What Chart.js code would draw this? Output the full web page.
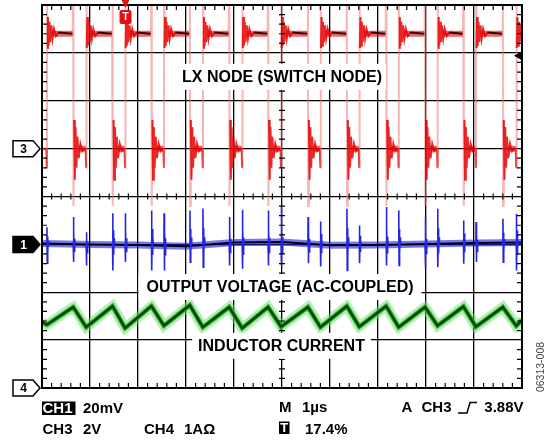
<!DOCTYPE html>
<html>
<head>
<meta charset="utf-8">
<script src="https://cdn.jsdelivr.net/npm/chart.js@4.4.0/dist/chart.umd.min.js"></script>
<style>
  html, body { margin: 0; padding: 0; background: #fff; }
  canvas { display: block; }
</style>
</head>
<body>
<canvas id="scope" width="550" height="440"></canvas>
<script>
// timebase M 1us/div, 10 div across -> times in us
var riseTimes = [0.10, 0.92, 1.73, 2.54, 3.35, 4.17, 4.98, 5.80, 6.61, 7.43, 8.24, 9.04, 9.88];
var fallTimes = [0.65, 1.47, 2.28, 3.08, 3.90, 4.71, 5.54, 6.35, 7.17, 7.98, 8.78, 9.60];

// CH3 LX node (volts, 2V/div, ground at div 5)
var lxHigh = 4.8;
var lxLow = 0;
// ringing: [dt us, volts]
var riseRing = [[0, -0.8], [0.004, 7.5], [0.012, 4.2], [0.024, 5.5], [0.038, 4.3], [0.054, 5.3], [0.072, 4.45], [0.095, 5.15], [0.12, 4.6], [0.15, 5.0], [0.19, 4.7], [0.24, 4.85]];
var fallRing = [[0, 7.5], [0.006, -2.4], [0.02, 1.2], [0.034, -1.3], [0.05, 0.9], [0.068, -0.8], [0.088, 0.5], [0.115, -0.4], [0.15, 0.2], [0.19, -0.1], [0.23, 0]];

// CH1 output voltage (mV, 20mV/div, ground at div 3)
var outDrift = [0.4, -0.1, -0.3, -0.8, 0.8, 1.0, -0.4, -0.3, 0.2, 0.6, 0.8];
var outSpikeUp = [7.2, 11.4, 5.1, 13.0, 13.0, 14.2, 13.0, 14.2, 15.0, 11.4, 14.5, 14.2, 15.6, 11.4, 9.6, 14.9, 7.9, 15.6, 14.2, 11.4, 14.9, 10.0, 9.3, 10.7, 12.8];
var outSpikeDown = [-7.9, -7.4, -8.8, -10.9, -7.4, -10.9, -10.9, -7.4, -9.5, -8.8, -10.2, -8.8, -8.8, -7.9, -9.2, -10.9, -7.9, -8.8, -8.8, -9.5, -9.5, -8.1, -7.4, -7.4, -10.9];
// spike shape, 1 = up amplitude, -1 = down amplitude
var spikeShape = [[0, 0], [0.003, 1], [0.009, -1], [0.016, 0.45], [0.023, -0.4], [0.031, 0.2], [0.04, 0]];

// CH4 inductor current (A, 1A/div, ground at div 0)
var ilValley = [1.32, 1.27, 1.25, 1.30, 1.27, 1.25, 1.28, 1.27, 1.28, 1.27, 1.30, 1.28, 1.30];
var ilPeak = [1.69, 1.71, 1.71, 1.73, 1.69, 1.69, 1.69, 1.71, 1.71, 1.69, 1.70, 1.69];
var ilStart = 1.38;
var ilEnd = 1.42;

var trigPos = 1.74;   // 17.4%
var trigLevel = 3.88; // V on CH3

function ch3(v) { return 5 + v / 2; }
function ch1(mv) { return 3 + mv / 20; }
function ch4(a) { return a; }

// LX node trace
var lxMain = [{x: 0, y: ch3(lxLow)}];
var lxFuzz = [];
riseTimes.forEach(function (r, i) {
  lxMain.push({x: r - 0.01, y: ch3(lxLow)});
  riseRing.forEach(function (p) { lxMain.push({x: r + p[0], y: ch3(p[1])}); });
  if (i < fallTimes.length) {
    var f = fallTimes[i];
    lxMain.push({x: f - 0.01, y: ch3(lxHigh)});
    fallRing.forEach(function (p) { lxMain.push({x: f + p[0], y: ch3(p[1])}); });
    lxFuzz.push({x: r + 0.1, y: ch3(lxHigh)}, {x: f - 0.01, y: ch3(lxHigh)}, {x: f, y: null});
    if (i + 1 < riseTimes.length) {
      lxFuzz.push({x: f + 0.12, y: ch3(lxLow)}, {x: riseTimes[i + 1] - 0.01, y: ch3(lxLow)}, {x: riseTimes[i + 1], y: null});
    }
  }
});

// output voltage
var outBase = outDrift.map(function (v, i) { return {x: i, y: ch1(v)}; });
var edges = riseTimes.concat(fallTimes).sort(function (a, b) { return a - b; });
var outSpikes = [];
edges.forEach(function (t, i) {
  spikeShape.forEach(function (s) {
    var v = s[1] >= 0 ? s[1] * outSpikeUp[i] : -s[1] * outSpikeDown[i];
    outSpikes.push({x: t + s[0], y: ch1(v)});
  });
  outSpikes.push({x: t + 0.05, y: null});
});

// inductor current
var ilPts = [{x: 0, y: ch4(ilStart)}];
riseTimes.forEach(function (r, i) {
  ilPts.push({x: r, y: ch4(ilValley[i])});
  if (i < fallTimes.length) ilPts.push({x: fallTimes[i], y: ch4(ilPeak[i])});
});
ilPts.push({x: 10, y: ch4(ilEnd)});

function trace(data, color, width, extra) {
  var ds = {data: data, borderColor: color, borderWidth: width, pointRadius: 0, tension: 0, fill: false, spanGaps: false};
  return Object.assign(ds, extra || {});
}

var FONT = '"Liberation Sans", Arial, sans-serif';

var scopeDecor = {
  id: 'scopeDecor',
  afterDraw: function (chart) {
    var ctx = chart.ctx, xs = chart.scales.x, ys = chart.scales.y, a = chart.chartArea;
    ctx.save();
    // frame
    ctx.strokeStyle = '#000';
    ctx.lineWidth = 2;
    ctx.strokeRect(a.left, a.top, a.right - a.left, a.bottom - a.top);
    // minor ticks
    ctx.lineWidth = 1.2;
    ctx.beginPath();
    var cx = xs.getPixelForValue(5), cy = ys.getPixelForValue(4);
    for (var k = 1; k < 50; k++) {
      if (k % 5 === 0) continue;
      var px = xs.getPixelForValue(k / 5);
      ctx.moveTo(px, a.top); ctx.lineTo(px, a.top + 5);
      ctx.moveTo(px, a.bottom); ctx.lineTo(px, a.bottom - 5);
      ctx.moveTo(px, cy - 3); ctx.lineTo(px, cy + 3);
    }
    for (var j = 1; j < 40; j++) {
      if (j % 5 === 0) continue;
      var py = ys.getPixelForValue(j / 5);
      ctx.moveTo(a.left, py); ctx.lineTo(a.left + 5, py);
      ctx.moveTo(a.right, py); ctx.lineTo(a.right - 5, py);
      ctx.moveTo(cx - 3, py); ctx.lineTo(cx + 3, py);
    }
    ctx.stroke();

    // trace labels on white boxes
    ctx.font = 'bold 16px ' + FONT;
    ctx.textAlign = 'center';
    ctx.textBaseline = 'middle';
    [['LX NODE (SWITCH NODE)', 5.0, 6.5, 4],
     ['OUTPUT VOLTAGE (AC-COUPLED)', 4.96, 2.11, 8],
     ['INDUCTOR CURRENT', 4.99, 0.88, 6]].forEach(function (l) {
      var x = xs.getPixelForValue(l[1]), y = ys.getPixelForValue(l[2]);
      var w = ctx.measureText(l[0]).width + 2 * l[3];
      ctx.fillStyle = '#fff';
      ctx.fillRect(x - w / 2, y - 13, w, 26);
      ctx.fillStyle = '#000';
      ctx.fillText(l[0], x, y + 1);
    });

    // channel ground markers
    function marker(y, label, filled) {
      ctx.beginPath();
      ctx.moveTo(13, y - 8); ctx.lineTo(33, y - 8); ctx.lineTo(40, y);
      ctx.lineTo(33, y + 8); ctx.lineTo(13, y + 8); ctx.closePath();
      ctx.fillStyle = filled ? '#000' : '#fff';
      ctx.fill();
      ctx.lineWidth = 1.5;
      ctx.strokeStyle = '#000';
      ctx.stroke();
      ctx.fillStyle = filled ? '#fff' : '#000';
      ctx.font = 'bold 12px ' + FONT;
      ctx.textAlign = 'center';
      ctx.fillText(label, 23.5, y + 1);
    }
    marker(ys.getPixelForValue(ch3(0)), '3', false);
    marker(ys.getPixelForValue(ch1(0)), '1', true);
    marker(ys.getPixelForValue(ch4(0)), '4', false);

    // trigger position (top) and level (right)
    var tx = xs.getPixelForValue(trigPos);
    ctx.fillStyle = '#e01010';
    ctx.beginPath();
    ctx.moveTo(tx - 4, 0); ctx.lineTo(tx + 4, 0); ctx.lineTo(tx, 8); ctx.closePath();
    ctx.fill();
    ctx.beginPath();
    ctx.roundRect(tx - 6, 10, 12, 14, 2);
    ctx.fill();
    ctx.fillStyle = '#fff';
    ctx.font = 'bold 10px ' + FONT;
    ctx.fillText('T', tx, 17.5);
    var ty = ys.getPixelForValue(ch3(trigLevel));
    ctx.fillStyle = '#000';
    ctx.beginPath();
    ctx.moveTo(a.right - 8, ty); ctx.lineTo(a.right - 1, ty - 4); ctx.lineTo(a.right - 1, ty + 4); ctx.closePath();
    ctx.fill();

    // readouts below the graticule
    ctx.font = 'bold 15px ' + FONT;
    ctx.textAlign = 'left';
    ctx.fillStyle = '#000';
    ctx.fillRect(42, 401.5, 33.5, 13.5);
    ctx.fillRect(279, 421.5, 10.5, 12.5);
    ctx.fillStyle = '#fff';
    ctx.fillText('CH1', 42.5, 409);
    ctx.font = 'bold 13px ' + FONT;
    ctx.fillText('T', 280.2, 428.5);
    ctx.fillStyle = '#000';
    ctx.font = 'bold 15px ' + FONT;
    ctx.fillText('20mV', 83, 409);
    ctx.fillText('CH3', 42.5, 429.5);
    ctx.fillText('2V', 83, 429.5);
    ctx.fillText('CH4', 144, 429.5);
    ctx.fillText('1A\u03A9', 184, 429.5);
    ctx.fillText('M', 279, 408);
    ctx.fillText('1\u00B5s', 302, 408);
    ctx.fillText('17.4%', 305, 429.5);
    ctx.fillText('A', 401.5, 408);
    ctx.fillText('CH3', 421.5, 408);
    ctx.textAlign = 'right';
    ctx.fillText('3.88V', 523.5, 408);
    ctx.lineWidth = 1.5;
    ctx.strokeStyle = '#000';
    ctx.beginPath();
    ctx.moveTo(458, 413); ctx.lineTo(467, 413); ctx.lineTo(470, 402.5); ctx.lineTo(477, 402.5);
    ctx.stroke();

    ctx.save();
    ctx.translate(541, 367);
    ctx.rotate(-Math.PI / 2);
    ctx.font = '10.5px ' + FONT;
    ctx.textAlign = 'center';
    ctx.fillStyle = '#444';
    ctx.fillText('06313-008', 0, 0);
    ctx.restore();
    ctx.restore();
  }
};

// fast edges show faint on the scope, settled plateau shows a dark core
var lxSegment = {
  borderColor: function (c) {
    var dx = c.p1.parsed.x - c.p0.parsed.x;
    var dy = Math.abs(c.p1.parsed.y - c.p0.parsed.y);
    if (dx < 0.02 && dy > 1.3) return 'rgba(238, 110, 110, 0.5)';
    if (dx > 0.1) return '#3a0000';
    return 'rgba(230, 0, 0, 0.85)';
  }
};

new Chart(document.getElementById('scope'), {
  type: 'line',
  data: {
    datasets: [
      trace(lxMain, '#e60000', 2, {segment: lxSegment}),
      trace(lxFuzz, 'rgba(222, 0, 0, 0.6)', 6),
      trace(outSpikes, '#2626e0', 1.6),
      trace(outBase, '#00001a', 2),
      trace(outBase, 'rgba(30, 30, 215, 0.6)', 7),
      trace(ilPts, '#053505', 1.8),
      trace(ilPts, '#1f9a1f', 4.5),
      trace(ilPts, 'rgba(100, 224, 100, 0.5)', 10)
    ]
  },
  options: {
    responsive: false,
    animation: false,
    layout: {padding: {left: 42, top: 5, right: 28, bottom: 52}},
    plugins: {legend: {display: false}, tooltip: {enabled: false}},
    scales: {
      x: {
        type: 'linear', min: 0, max: 10,
        ticks: {display: false, stepSize: 1},
        grid: {color: '#000', lineWidth: 1.3, drawTicks: false},
        border: {display: false}
      },
      y: {
        type: 'linear', min: 0, max: 8,
        ticks: {display: false, stepSize: 1},
        grid: {color: '#000', lineWidth: 1.3, drawTicks: false},
        border: {display: false}
      }
    }
  },
  plugins: [scopeDecor]
});
</script>
</body>
</html>
